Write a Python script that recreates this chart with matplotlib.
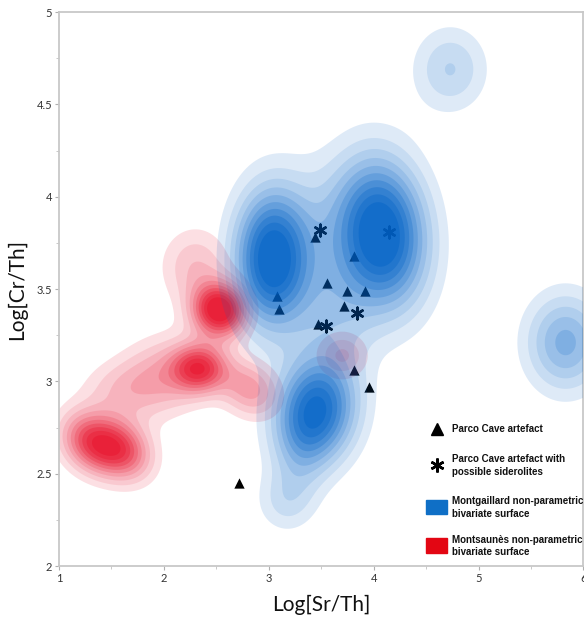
import numpy as np
import matplotlib
matplotlib.use("Agg")
import matplotlib.pyplot as plt
from matplotlib.patches import Rectangle

# Parco Cave artefacts
tri_x = [3.44, 3.81, 3.56, 3.745, 3.92, 3.08, 3.10, 3.72, 3.47, 3.81, 3.96, 2.72]
tri_y = [3.78, 3.68, 3.53, 3.49, 3.49, 3.46, 3.39, 3.41, 3.31, 3.06, 2.97, 2.45]
# artefacts with possible siderolites
ast_x = [3.49, 4.15, 3.84, 3.55]
ast_y = [3.82, 3.81, 3.37, 3.30]

# Montgaillard surface, read as bumps: centre, spread, height
mg_cx = [3.03, 4.08, 3.45, 3.17, 4.73, 5.83, 3.62, 3.50, 3.30]
mg_cy = [3.66, 3.80, 2.84, 2.35, 4.69, 3.21, 3.38, 3.85, 2.60]
mg_sx = [0.25, 0.30, 0.27, 0.20, 0.25, 0.265, 0.27, 0.32, 0.18]
mg_sy = [0.26, 0.28, 0.20, 0.12, 0.163, 0.185, 0.22, 0.26, 0.15]
mg_h = [0.92, 0.95, 0.85, 0.20, 0.265, 0.45, 0.22, 0.14, 0.12]
mg_rho = [0.0, -0.1, 0.1, 0.0, 0.0, 0.0, 0.0, 0.0, 0.0]

# Montsaunes surface
ms_cx = [1.30, 1.60, 2.45, 2.62, 2.34, 2.82, 1.55, 1.88, 2.10, 2.30, 3.70]
ms_cy = [2.67, 2.63, 3.39, 3.38, 3.07, 2.96, 2.95, 3.00, 3.06, 3.62, 3.14]
ms_sx = [0.20, 0.20, 0.15, 0.15, 0.18, 0.20, 0.25, 0.25, 0.26, 0.23, 0.17]
ms_sy = [0.115, 0.115, 0.10, 0.10, 0.09, 0.11, 0.11, 0.14, 0.15, 0.15, 0.09]
ms_h = [0.60, 0.60, 0.55, 0.55, 0.70, 0.38, 0.18, 0.20, 0.16, 0.25, 0.28]
ms_rho = [-0.2, -0.2, 0.0, 0.0, 0.0, -0.2, 0.0, 0.0, 0.0, 0.0, 0.0]

levels = [0.1, 0.18, 0.26, 0.34, 0.42, 0.5, 0.58, 0.66, 0.74, 0.82]
shade = [0.13, 0.22, 0.31, 0.40, 0.50, 0.60, 0.70, 0.79, 0.86, 0.92]

gx = np.linspace(0.5, 6.5, 600)
gy = np.linspace(1.8, 5.2, 500)
X, Y = np.meshgrid(gx, gy)


def surface(cx, cy, sx, sy, h, rho):
    Z = np.zeros_like(X)
    for i in range(len(cx)):
        u = (X - cx[i]) / sx[i]
        v = (Y - cy[i]) / sy[i]
        q = (u * u - 2 * rho[i] * u * v + v * v) / (2 * (1 - rho[i] ** 2))
        Z += h[i] * np.exp(-q)
    return Z


def stacked(ax, Z, rgb, z):
    # nested regions with small alphas, so bands build up without seams
    prev = 0.0
    for lev, A in zip(levels, shade):
        a = (A - prev) / (1 - prev)
        prev = A
        ax.contourf(X, Y, Z, levels=[lev, 1e9], colors=[(rgb[0], rgb[1], rgb[2], a)],
                    zorder=z, antialiased=True)


fig = plt.figure(figsize=(5.84, 6.19), dpi=100)
ax = fig.add_axes([0.101, 0.0856, 0.898, 0.895])

ax.scatter(tri_x, tri_y, marker="^", s=55, color="black", zorder=1, linewidths=0)
ax.scatter(ast_x, ast_y, marker=(6, 2, 0), s=70, color="black", linewidths=1.8, zorder=1)

stacked(ax, surface(ms_cx, ms_cy, ms_sx, ms_sy, ms_h, ms_rho), (0.91, 0.06, 0.16), 2)
stacked(ax, surface(mg_cx, mg_cy, mg_sx, mg_sy, mg_h, mg_rho), (0.0, 0.38, 0.78), 3)

ax.set_xlim(1, 6)
ax.set_ylim(2, 5)
ax.set_xticks([1, 2, 3, 4, 5, 6])
ax.set_xticks([1.5, 2.5, 3.5, 4.5, 5.5], minor=True)
ax.set_yticks([2, 2.5, 3, 3.5, 4, 4.5, 5])
ax.set_yticklabels(["2", "2.5", "3", "3.5", "4", "4.5", "5"])
ax.set_yticks([2.25, 2.75, 3.25, 3.75, 4.25, 4.75], minor=True)
ax.tick_params(which="major", length=3, color="#b0b0b0", labelsize=8, labelcolor="#333333", pad=2)
ax.tick_params(which="minor", length=2, color="#c0c0c0")
for lab in ax.get_xticklabels() + ax.get_yticklabels():
    lab.set_family("Lato")
for s in ax.spines.values():
    s.set_color("#c8c8c8")
    s.set_linewidth(1.3)

ax.set_xlabel("Log[Sr/Th]", fontsize=15, family="Lato", color="#111111", labelpad=8)
ax.set_ylabel("Log[Cr/Th]", fontsize=15, family="Lato", color="#111111", labelpad=7)

# legend
lf = dict(fontsize=7, family="Liberation Sans", fontweight="bold", color="#111111",
          transform=ax.transAxes, va="center", ha="left", zorder=5, linespacing=1.35)
ax.plot([0.72], [0.247], marker="^", ms=9, color="black", transform=ax.transAxes, clip_on=False, zorder=5)
ax.text(0.75, 0.247, "Parco Cave artefact", **lf)
ax.plot([0.72], [0.182], marker=(6, 2, 0), ms=10, mew=1.8, color="black", transform=ax.transAxes, clip_on=False, zorder=5)
ax.text(0.75, 0.182, "Parco Cave artefact with\npossible siderolites", **lf)
ax.add_patch(Rectangle((0.70, 0.094), 0.04, 0.025, transform=ax.transAxes, color="#0f6fc6", zorder=5))
ax.text(0.75, 0.106, "Montgaillard non-parametric\nbivariate surface", **lf)
ax.add_patch(Rectangle((0.70, 0.023), 0.04, 0.027, transform=ax.transAxes, color="#e30613", zorder=5))
ax.text(0.75, 0.036, "Montsaunès non-parametric\nbivariate surface", **lf)

fig.savefig("out.png", dpi=100)
